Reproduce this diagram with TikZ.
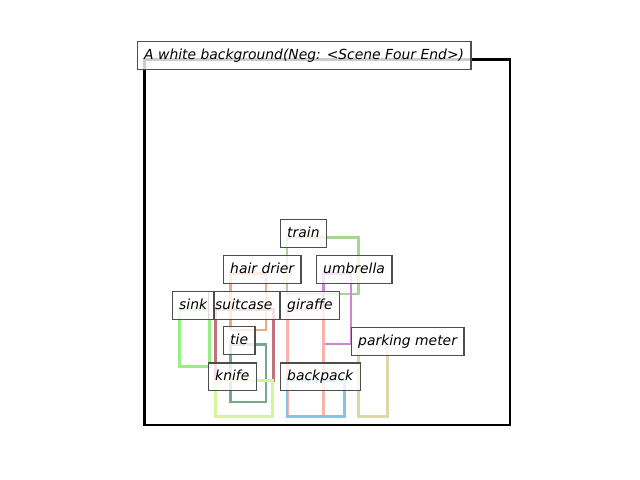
\documentclass[tikz,border=0pt]{standalone}
\usepackage{fontspec}
\setmainfont{DejaVu Sans}
\definecolor{cTrain}{RGB}{164,216,146}
\definecolor{cHair}{RGB}{240,168,124}
\definecolor{cUmb}{RGB}{204,136,208}
\definecolor{cSink}{RGB}{152,238,134}
\definecolor{cSuit}{RGB}{192,114,122}
\definecolor{cGir}{RGB}{248,178,170}
\definecolor{cPark}{RGB}{222,216,166}
\definecolor{cTie}{RGB}{122,166,142}
\definecolor{cKnife}{RGB}{212,245,154}
\definecolor{cBack}{RGB}{130,196,228}
\definecolor{lblEdge}{RGB}{77,77,77}
\tikzset{
  objbox/.style={line width=2pt},
  lbl/.style={draw=lblEdge, fill=white, fill opacity=0.8, text opacity=1,
    line width=1pt, inner xsep=5pt, inner ysep=5pt, outer sep=0pt,
    text height=7.6pt, text depth=2.4pt, anchor=base west,
    font=\fontsize{10}{12}\selectfont\itshape},
  spine/.style={line width=2pt, black}
}
\begin{document}
\begin{tikzpicture}[x=0.72pt,y=-0.72pt]
\useasboundingbox (0,0) rectangle (640,480);
% axes frame
\draw[spine] (144.5,59.3) rectangle (510,425);
% object boxes
\draw[objbox, cTrain] (287,237.3) rectangle (358.5,294);
\draw[objbox, cHair] (230.3,273.3) rectangle (266,330);
\draw[objbox, cUmb] (323.3,273.3) rectangle (351,344);
\draw[objbox, cSink] (179.3,309.3) rectangle (209.3,366.5);
\draw[objbox, cSuit] (215.3,309.3) rectangle (273.2,380.5);
\draw[objbox, cGir] (287.3,309.3) rectangle (323.3,416.3);
\draw[objbox, cPark] (358.3,345) rectangle (387.3,416.3);
\draw[objbox, cTie] (230.3,344.3) rectangle (266,402);
\draw[objbox, cKnife] (215.3,380.5) rectangle (272.7,416.3);
\draw[objbox, cBack] (287,380.5) rectangle (344.3,416.3);
% labels
\node[lbl] (title) at (137.3,59.3) {A white background(Neg: <Scene Four End>)};
\node[lbl] (train) at (280.3,237.3) {train};
\node[lbl] (hairdrier) at (223.3,273.3) {hair drier};
\node[lbl] (umbrella) at (316.3,273.3) {umbrella};
\node[lbl] (suitcase) at (208.3,309.3) {suitcase};
\node[lbl] (sink) at (172.3,309.3) {sink};
\node[lbl] (giraffe) at (280.3,309.3) {giraffe};
\node[lbl] (parking) at (351.3,345) {parking meter};
\node[lbl] (tie) at (223.3,344.3) {tie};
\node[lbl] (knife) at (208.3,380.5) {knife};
\node[lbl] (backpack) at (280.3,380.5) {backpack};
\end{tikzpicture}
\end{document}
